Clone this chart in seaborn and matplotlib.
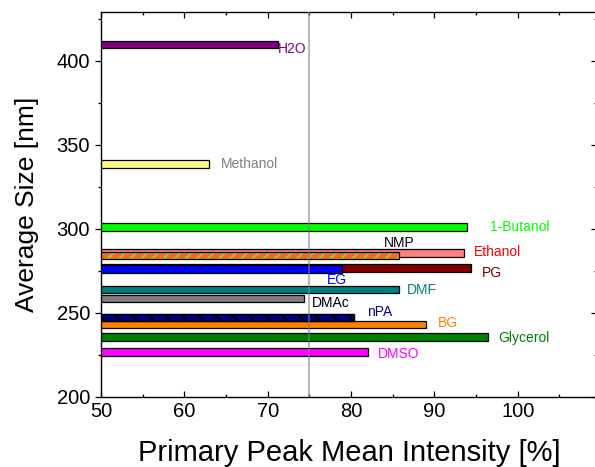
import numpy as np
import pandas as pd
import matplotlib
matplotlib.use("Agg")
import matplotlib.pyplot as plt
from matplotlib.patches import Rectangle
from matplotlib.ticker import MultipleLocator
import seaborn as sns

# Solvent data: primary peak mean intensity (%) and average particle size (nm)
solvents = ["H2O", "Methanol", "1-Butanol", "Ethanol", "NMP", "PG", "EG",
            "DMF", "DMAc", "BG", "nPA", "Glycerol", "DMSO"]
intensity = [71.2, 63.0, 93.85, 93.5, 85.8, 94.4, 78.9,
             85.8, 74.4, 89.0, 80.3, 96.4, 82.05]
avg_size = [409.7, 338.5, 301.1, 285.7, 284.2, 276.8, 276.2,
            264.0, 258.5, 243.3, 247.3, 235.6, 226.7]

bar_colors = ["#800080", "#FFFF80", "#00FF00", "#FF8080", "#EE6A2A", "#800000", "#0000FF",
              "#008080", "#808080", "#FF8000", "#000080", "#008000", "#FF00FF"]
label_colors = ["#800080", "#808080", "#00FF00", "#FF0000", "#000000", "#800000", "#0000FF",
                "#008080", "#000000", "#FF8000", "#000080", "#008000", "#FF00FF"]
# label offsets from the bar tip, in points
label_offsets = [(0, -3.1), (8.4, 0), (16.6, -0.3), (7.2, 1.0), (-11.5, 9.0), (8.1, -3.6),
                 (-10.8, -7.9), (5.0, -0.3), (5.5, -2.9), (8.6, 1.0), (10.0, 4.2),
                 (7.2, -0.6), (7.0, -1.3)]

df = pd.DataFrame({"solvent": solvents, "intensity": intensity, "size": avg_size})

sns.set_style("ticks")
plt.rcParams["font.family"] = ["Liberation Sans", "DejaVu Sans"]
plt.rcParams["hatch.linewidth"] = 1.5
for key in ["text.color", "axes.labelcolor", "xtick.color", "ytick.color", "axes.edgecolor"]:
    plt.rcParams[key] = "black"

fig = plt.figure(figsize=(5.95, 4.67), dpi=100)
ax = fig.add_axes([101 / 595, 70 / 467, 496 / 595, 385 / 467])

bar_height = 4.4  # nm
native_unit = np.diff(np.unique(avg_size)).min()
sns.barplot(data=df, x="intensity", y="size", hue="solvent", hue_order=solvents,
            palette=dict(zip(solvents, bar_colors)), orient="y", native_scale=True,
            dodge=False, saturation=1, errorbar=None, legend=False,
            width=bar_height / native_unit, edgecolor="black", linewidth=0.9, ax=ax)

def hatch_bar(patch, pattern, color):
    patch.set_hatch(pattern)
    if hasattr(patch, "set_hatch_linewidth"):
        patch.set_hatch_linewidth(1.5)
    if hasattr(patch, "set_hatchcolor"):
        patch.set_hatchcolor(color)
    else:
        patch.set_edgecolor(color)
        ax.add_patch(Rectangle(patch.get_xy(), patch.get_width(), patch.get_height(),
                               fill=False, edgecolor="black", linewidth=0.9,
                               zorder=patch.get_zorder() + 0.01))

bars = {name: cont.patches[0] for name, cont in zip(solvents, ax.containers)}
hatch_bar(bars["NMP"], "///", "#A8C41E")
hatch_bar(bars["nPA"], "\\\\", "#000000")

# solvent labels next to each bar
for name, val, size, col, (dx, dy) in zip(solvents, intensity, avg_size,
                                          label_colors, label_offsets):
    ax.annotate(name, xy=(val, size), xytext=(dx, dy), textcoords="offset points",
                ha="left", va="center", color=col, fontsize=10)

ax.axvline(75, color="#808080", alpha=0.55, linewidth=1.5, zorder=5)

ax.set_xlim(50, 109.5)
ax.set_ylim(200, 429)
ax.xaxis.set_major_locator(MultipleLocator(10))
ax.xaxis.set_minor_locator(MultipleLocator(5))
ax.yaxis.set_major_locator(MultipleLocator(50))
ax.yaxis.set_minor_locator(MultipleLocator(25))

ax.tick_params(axis="y", which="both", direction="out", left=True, right=False,
               labelsize=14.5, colors="black")
ax.tick_params(axis="x", which="both", direction="in", bottom=True, top=True,
               labelsize=14.5, colors="black")
ax.tick_params(which="major", length=4.3, width=0.9)
ax.tick_params(which="minor", length=2.2, width=0.9)

# inward ticks on the right side
ax_r = ax.secondary_yaxis("right")
ax_r.yaxis.set_major_locator(MultipleLocator(50))
ax_r.yaxis.set_minor_locator(MultipleLocator(25))
ax_r.tick_params(which="both", direction="in", labelright=False, colors="black")
ax_r.tick_params(which="major", length=4.3, width=0.9)
ax_r.tick_params(which="minor", length=2.2, width=0.9)

for sp in ax.spines.values():
    sp.set_visible(True)
    sp.set_color("black")
    sp.set_linewidth(1.0)

ax.set_xlabel("Primary Peak Mean Intensity [%]", fontsize=21, labelpad=13, color="black")
ax.set_ylabel("Average Size [nm]", fontsize=19, labelpad=12.5, color="black")

fig.savefig("out.png", dpi=100)
